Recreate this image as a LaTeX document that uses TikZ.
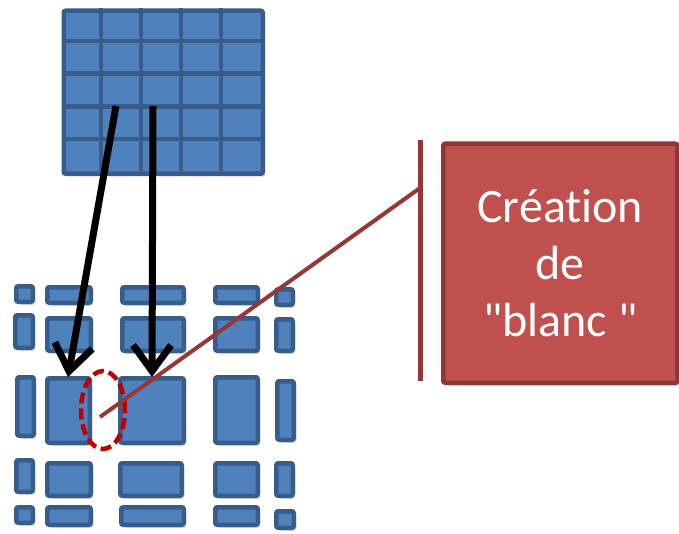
\documentclass[tikz,border=0pt]{standalone}
\usepackage{fontspec}
\setmainfont{Carlito}[Ligatures=NoCommon]
\usepackage{xcolor}
\usetikzlibrary{arrows.meta,positioning,shapes.geometric,shadows}

\definecolor{tileblue}{HTML}{4F81BD}
\definecolor{tileedge}{HTML}{385D8A}
\definecolor{notefill}{HTML}{C0504D}
\definecolor{noteedge}{HTML}{8C3836}
\definecolor{linkbrown}{HTML}{953735}
\definecolor{gapred}{HTML}{C00000}

\begin{document}
\begin{tikzpicture}[
    x=1pt, y=-1pt,
    shade/.style={drop shadow={shadow xshift=2.5pt, shadow yshift=-3pt, opacity=0.3}},
    tile/.style={draw=tileedge, fill=tileblue, line width=4.5pt, rounded corners=2pt, shade},
    gridline/.style={draw=tileedge, line width=4.5pt},
    push/.style={-{Straight Barb[length=26pt, width=38pt]}, line width=7pt, black},
    gapmark/.style={ellipse, draw=gapred, line width=4.5pt, dash pattern=on 11pt off 5pt, minimum width=44pt, minimum height=78pt, inner sep=0pt},
    link/.style={draw=linkbrown, line width=4pt},
    note/.style={draw=noteedge, fill=notefill, line width=4.5pt, rounded corners=2pt, shade, minimum width=234pt, minimum height=239pt, inner sep=0pt, text=white, align=center, font=\fontsize{48}{57}\selectfont}
  ]
    \useasboundingbox (0,0) rectangle (679,534);

    \node[tile, anchor=north west, minimum width=199pt, minimum height=163pt, inner sep=0pt] (src) at (61.5,8.5) {};
    \foreach \i in {1,...,4} {
      \draw[gridline] ({61+\i*40},8.5) -- ({61+\i*40},171.5);
      \draw[gridline] (61.5,{8+\i*32.8}) -- (260.5,{8+\i*32.8});
    }

    \foreach \a/\b/\c/\d in {
      14/284/35/304, 45/285/93/305, 120/285/186/305, 213/285/260/305, 274/287/295/307,
      13/313/35/350, 45/316/93/353, 120/316/186/353, 213/316/260/353, 274/317/295/353,
      15/375/36/438, 45/376/92/445, 118/376/186/445, 213/375/260/445, 275/379/296/442,
      14/458/35/494, 45/461/93/498, 118/461/184/498, 213/461/260/498, 274/461/295/498,
      14/505/35/525, 45/505/93/527, 119/505/186/527, 213/505/260/527, 274/509/296/530}
      \draw[tile] ({\a+2.25},{\b+2.25}) rectangle ({\c-2.25},{\d-2.25});

    \coordinate (a1s) at (116,106);
    \coordinate (a1e) at (68,377);
    \coordinate (a2s) at (153,106);
    \coordinate (a2e) at (152,377);
    \draw[push] (a1s) -- (a1e);
    \draw[push] (a2s) -- (a2e);

    \node[gapmark] (gap) at (103,410) {};

    \node[note, anchor=north west] (blank) at (441,141.5) {Créat\kern0pt ion\\de\\\textquotedbl blanc \textquotedbl};
    \coordinate (bartop) at (420,140);
    \coordinate (barbot) at (420,381);
    \coordinate (hook) at (420,188);
    \coordinate (spot) at (100,417);
    \draw[link, line width=5pt] (bartop) -- (barbot);
    \draw[link] (spot) -- (hook);
  \end{tikzpicture}
\end{document}
